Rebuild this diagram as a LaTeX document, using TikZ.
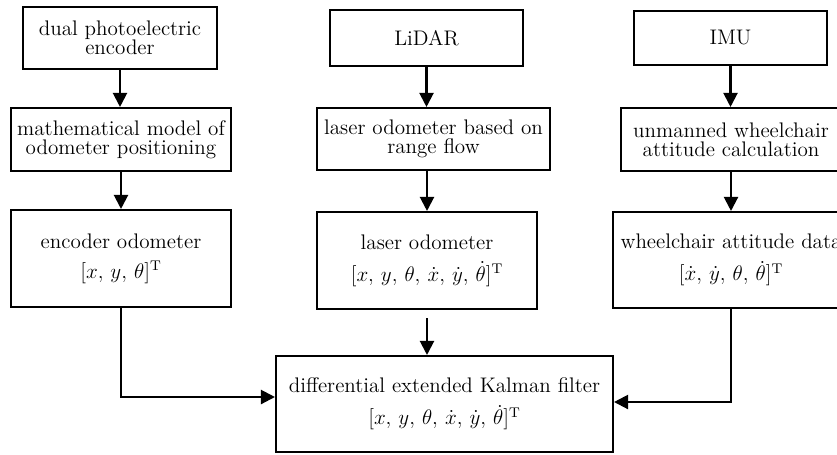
\documentclass[tikz,border=0pt]{standalone}
\usetikzlibrary{arrows.meta}
\begin{document}
\begin{tikzpicture}[x=0.02cm,y=-0.02cm,line width=1.2pt,
  box/.style={draw,align=center,inner sep=0pt,font=\fontsize{12}{11}\selectfont},
  arr/.style={-{Triangle[length=2.8mm,width=2.8mm]}}]
\clip (0,0) rectangle (837,454);
\node[box,minimum width=3.88cm,minimum height=1.24cm] (enc) at (120,38) {dual photoelectric\\encoder};
\node[box,minimum width=4.4cm,minimum height=1.26cm] (model) at (121,139.5) {mathematical model of\\odometer positioning};
\node[box,minimum width=4.4cm,minimum height=1.94cm] (encodo) at (121,258.5) {encoder odometer\\[6pt]$[x,\,y,\,\theta]^{\mathrm{T}}$};

\node[box,minimum width=3.86cm,minimum height=1.12cm] (lidar) at (426.5,38) {LiDAR};
\node[box,minimum width=4.66cm,minimum height=1.24cm] (flow) at (433.5,139) {laser odometer based on\\range flow};
\node[box,minimum width=4.4cm,minimum height=1.94cm] (laserodo) at (427,260.5) {laser odometer\\[6pt]$[x,\,y,\,\theta,\,\dot{x},\,\dot{y},\,\dot{\theta}]^{\mathrm{T}}$};

\node[box,minimum width=3.86cm,minimum height=1.08cm] (imu) at (730.5,38) {IMU};
\node[box,minimum width=4.4cm,minimum height=1.26cm] (att) at (731,139.5) {unmanned wheelchair\\attitude calculation};
\node[box,minimum width=4.72cm,minimum height=1.92cm] (attdata) at (731,260) {wheelchair attitude data\\[6pt]$[\dot{x},\,\dot{y},\,\theta,\,\dot{\theta}]^{\mathrm{T}}$};

\node[box,minimum width=6.74cm,minimum height=1.92cm] (ekf) at (444.5,404) {differential extended Kalman filter\\[6pt]$[x,\,y,\,\theta,\,\dot{x},\,\dot{y},\,\dot{\theta}]^{\mathrm{T}}$};

\draw [arr] (enc.south) -- (enc.south |- model.north);
\draw [arr] (model.south) -- (model.south |- encodo.north);
\draw [arr] (lidar.south) -- (lidar.south |- flow.north);
\draw [arr] (laserodo.north |- flow.south) -- (laserodo.north);
\draw [arr] (imu.south) -- (imu.south |- att.north);
\draw [arr] (att.south) -- (att.south |- attdata.north);
\draw [arr,shorten <=1.6mm] (laserodo.south) -- (laserodo.south |- ekf.north);
\draw [arr] (encodo.south) |- ([yshift=0.14cm]ekf.west);
\draw [arr] (attdata.south) |- ([yshift=0.04cm]ekf.east);
\end{tikzpicture}
\end{document}
